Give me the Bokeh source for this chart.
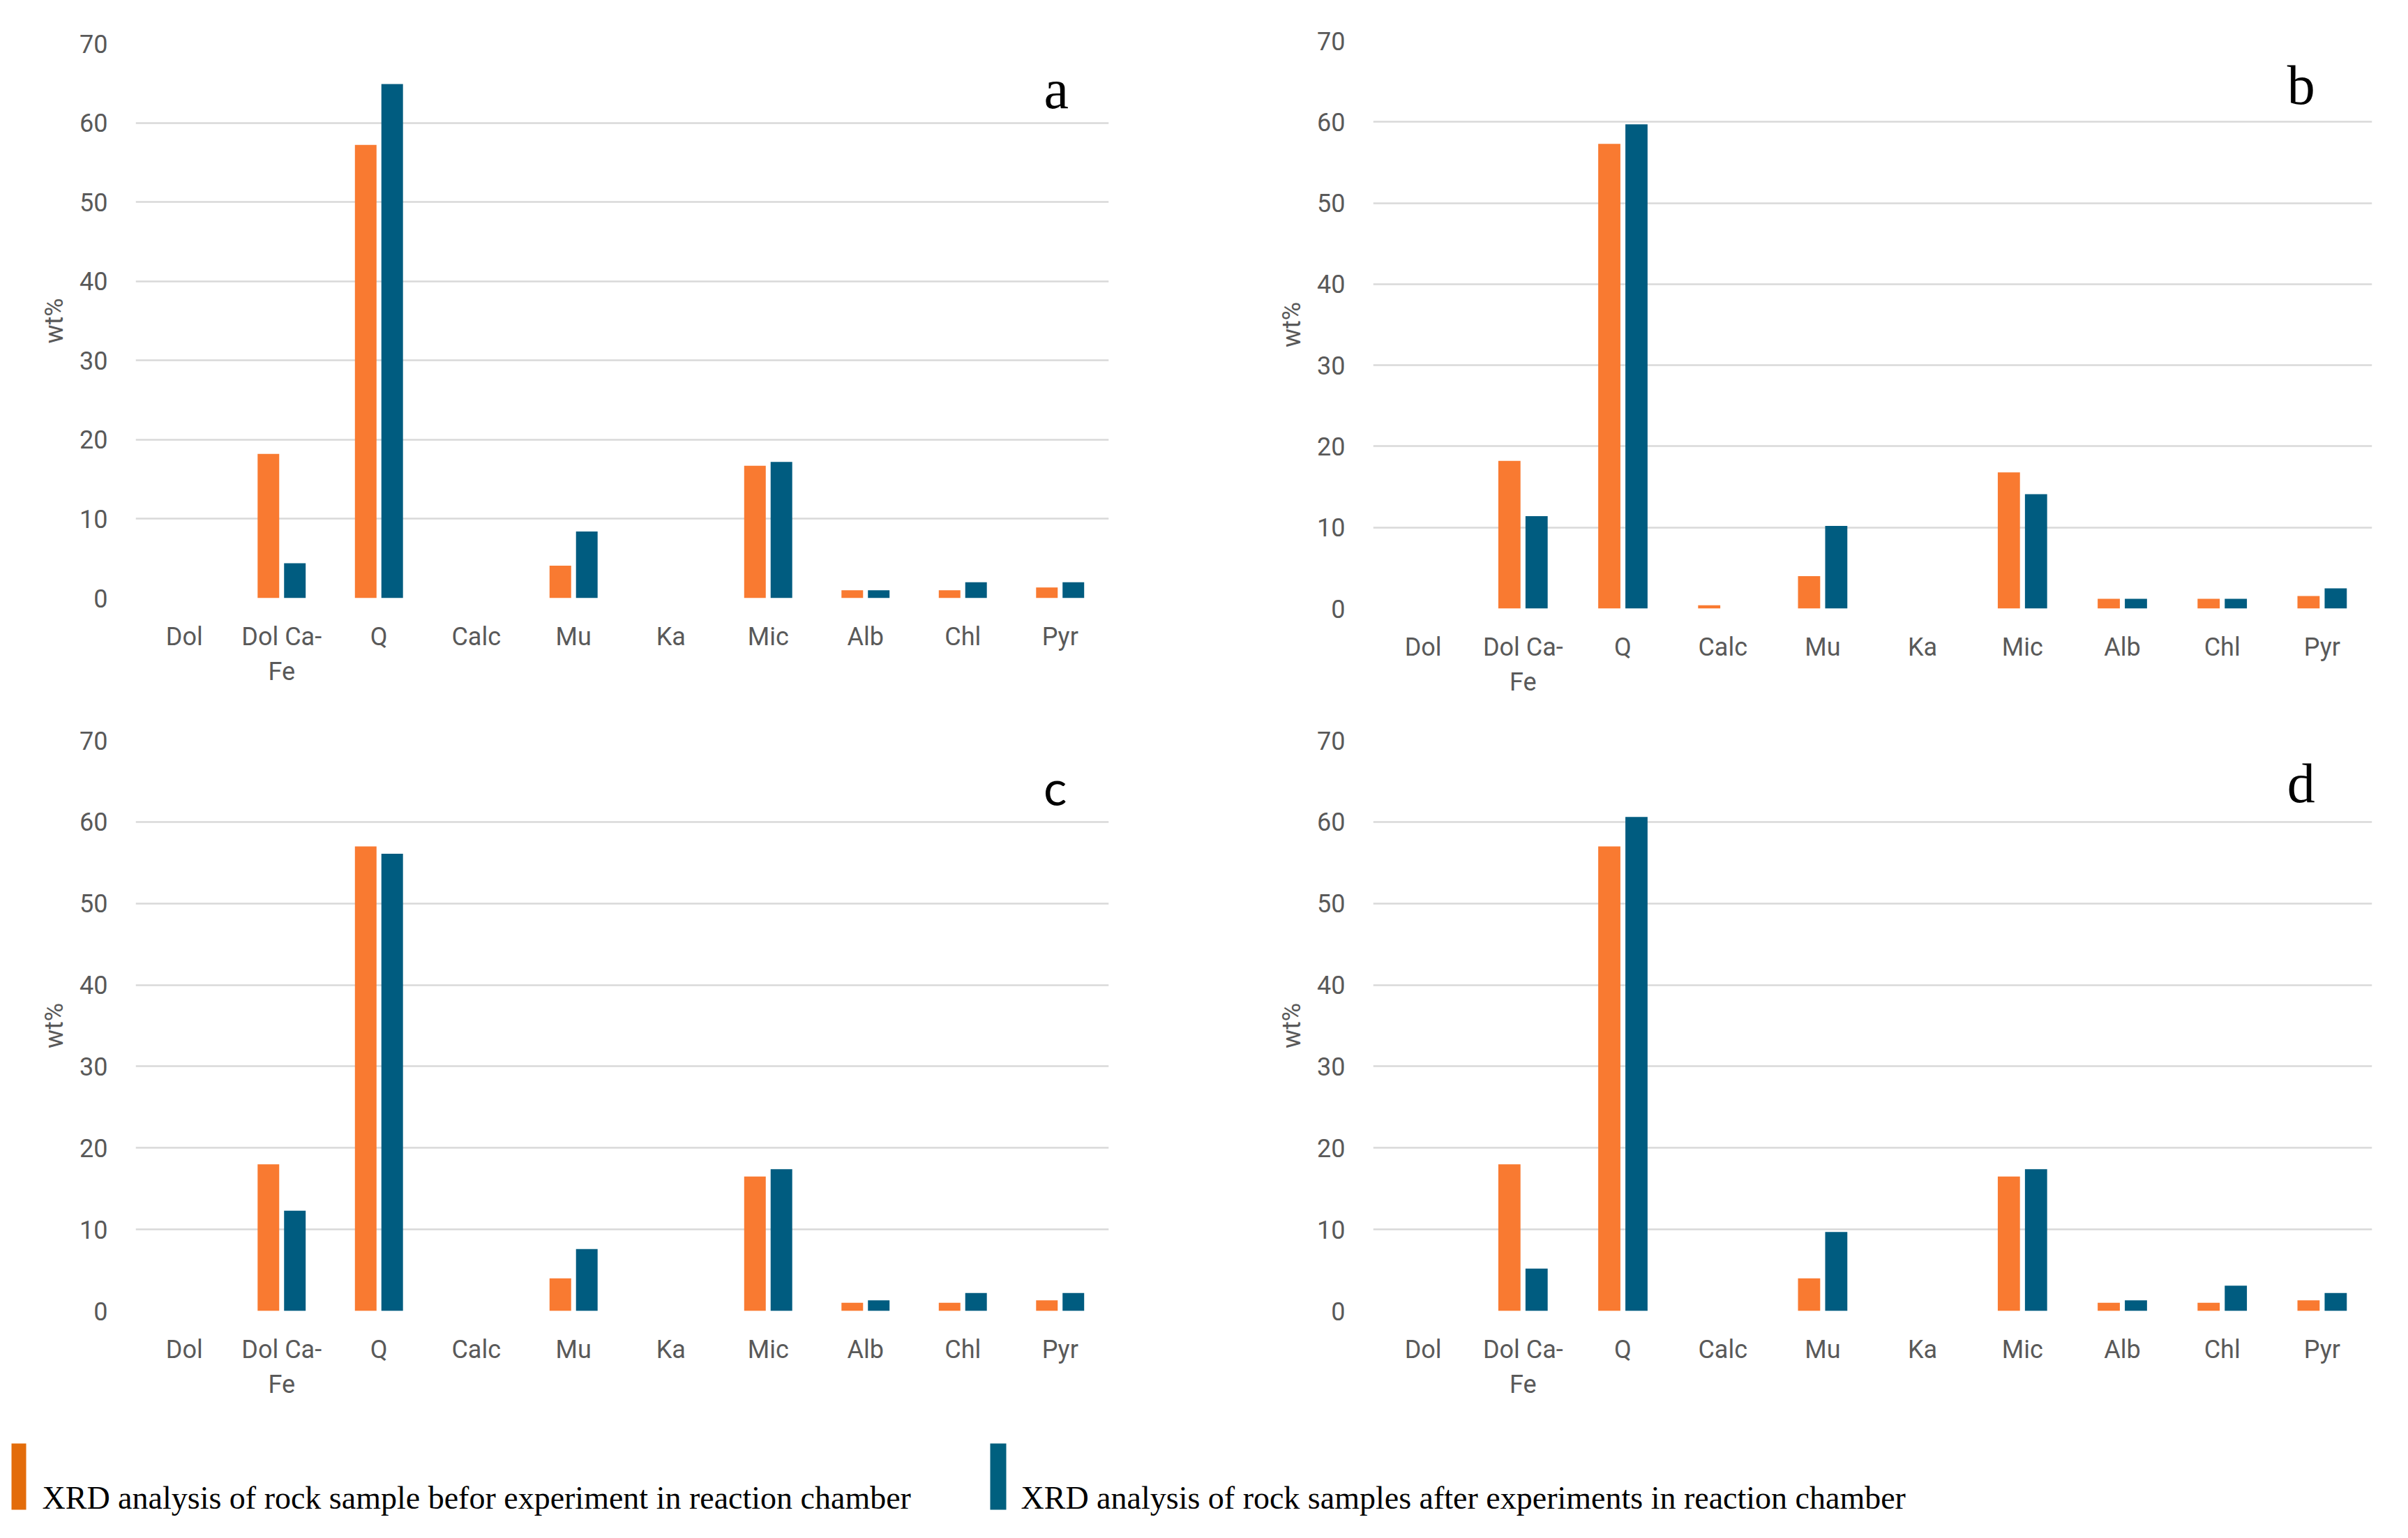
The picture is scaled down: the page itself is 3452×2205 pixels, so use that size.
from bokeh.plotting import figure
from bokeh.layouts import row, column
from bokeh.models import ColumnDataSource, Range1d, FactorRange, Label
from bokeh.transform import dodge
from bokeh.embed import file_html
from bokeh.resources import INLINE
from bokeh.core.properties import value

# ---------------- data ----------------
minerals = ["Dol", "Dol Ca-\nFe", "Q", "Calc", "Mu", "Ka", "Mic", "Alb", "Chl", "Pyr"]
y_ticks = [0, 10, 20, 30, 40, 50, 60, 70]
series_names = ["XRD analysis of rock sample befor experiment in reaction chamber",
                "XRD analysis of rock samples after experiments in reaction chamber"]

a_before = [0, 18.2, 57.2, 0, 4.1, 0, 16.7, 1.0, 1.0, 1.35]
a_after = [0, 4.4, 64.9, 0, 8.4, 0, 17.2, 1.0, 2.0, 2.0]
b_before = [0, 18.2, 57.3, 0.4, 4.0, 0, 16.8, 1.2, 1.2, 1.55]
b_after = [0, 11.4, 59.7, 0, 10.2, 0, 14.1, 1.2, 1.2, 2.5]
c_before = [0, 18.0, 57.0, 0, 4.0, 0, 16.5, 1.0, 1.0, 1.3]
c_after = [0, 12.3, 56.1, 0, 7.6, 0, 17.4, 1.3, 2.2, 2.2]
d_before = [0, 18.0, 57.0, 0, 4.0, 0, 16.5, 1.0, 1.0, 1.3]
d_after = [0, 5.2, 60.6, 0, 9.7, 0, 17.4, 1.3, 3.1, 2.2]
panel_letters = ["a", "b", "c", "d"]

# ---------------- style ----------------
BAR_ORANGE = "#F97A31"
BAR_BLUE = "#005C80"
LEG_ORANGE = "#E36C0A"
LEG_BLUE = "#00607F"
GRID = "#D9D9D9"
TXT = "#595959"
TICK_FONT = "Roboto"


def make_panel(before, after, letter, width, height, bl, br, bt, bb,
               letter_x, letter_y, letter_font, letter_size):
    src = ColumnDataSource(dict(m=minerals, before=before, after=after))
    p = figure(width=width, height=height, x_range=FactorRange(factors=minerals, range_padding=0),
               y_range=Range1d(0, 70), toolbar_location=None, output_backend="svg",
               min_border_left=bl, min_border_right=br, min_border_top=bt, min_border_bottom=bb)
    p.vbar(x=dodge("m", -0.136, range=p.x_range), top="before", width=0.222, source=src,
           fill_color=BAR_ORANGE, line_color=None)
    p.vbar(x=dodge("m", 0.136, range=p.x_range), top="after", width=0.222, source=src,
           fill_color=BAR_BLUE, line_color=None)
    p.outline_line_color = None
    p.xgrid.grid_line_color = None
    p.ygrid.grid_line_color = GRID
    p.ygrid.grid_line_width = 2.5
    p.yaxis.ticker = y_ticks
    for ax in (p.xaxis, p.yaxis):
        ax.axis_line_color = None
        ax.major_tick_line_color = None
        ax.minor_tick_line_color = None
        ax.major_tick_in = 0
        ax.major_tick_out = 0
        ax.major_label_text_font = TICK_FONT
        ax.major_label_text_font_size = "36px"
        ax.major_label_text_color = TXT
    p.xaxis.major_label_standoff = 34
    p.yaxis.major_label_standoff = 40
    p.yaxis.axis_label = "wt%"
    p.yaxis.axis_label_text_font = TICK_FONT
    p.yaxis.axis_label_text_font_size = "36px"
    p.yaxis.axis_label_text_font_style = "normal"
    p.yaxis.axis_label_text_color = TXT
    p.yaxis.axis_label_standoff = 12
    p.add_layout(Label(x=letter_x, y=letter_y, text=letter, text_font=letter_font,
                       text_font_size=letter_size, text_align="center",
                       text_baseline="alphabetic", text_color="black"))
    return p


pa = make_panel(a_before, a_after, panel_letters[0], 1720, 1040, 194, 131, 62, 183,
                9.46, 64.2, "Liberation Serif", "80px")
pb = make_panel(b_before, b_after, panel_letters[1], 1716, 1040, 248, 36, 58, 168,
                9.29, 64.5, "Liberation Serif", "80px")
pc = make_panel(c_before, c_after, panel_letters[2], 1720, 992, 194, 131, 21, 153,
                9.45, 64.3, "Lato", "70px")
pd = make_panel(d_before, d_after, panel_letters[3], 1716, 992, 248, 36, 21, 153,
                9.29, 64.7, "Liberation Serif", "80px")

# ---------------- legend ----------------
leg = figure(width=3436, height=157, x_range=Range1d(0, 3436), y_range=Range1d(0, 157),
             toolbar_location=None, output_backend="svg", min_border=0)
leg.axis.visible = False
leg.grid.grid_line_color = None
leg.outline_line_color = None
leg_src = ColumnDataSource(dict(left=[16, 1419], right=[37, 1442], bottom=[25, 25], top=[120, 120],
                                tx=[60, 1463], ty=[42, 42], label=series_names,
                                color=[LEG_ORANGE, LEG_BLUE]))
leg.quad(left="left", right="right", bottom="bottom", top="top", fill_color="color",
         line_color=None, source=leg_src)
leg.text(x="tx", y="ty", text="label", source=leg_src, text_font=value("Liberation Serif"),
         text_font_size="46px", text_color="black", text_baseline="alphabetic")

# wrap each panel so the row does not force identical frame boxes
layout = column(row(column(pa), column(pb)), row(column(pc), column(pd)), leg)
open("out.html", "w").write(file_html(layout, INLINE))
